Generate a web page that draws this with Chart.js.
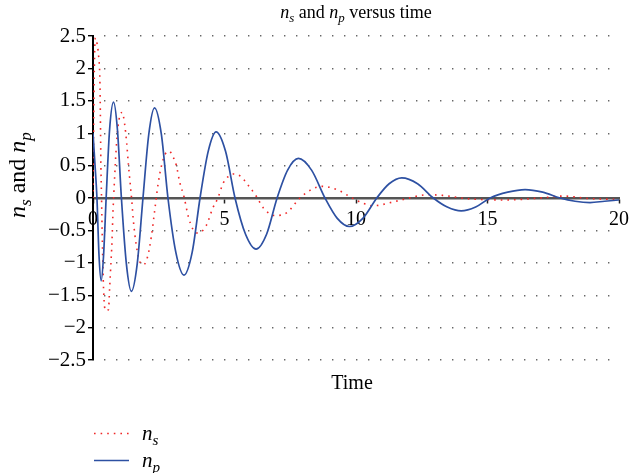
<!DOCTYPE html>
<html>
<head>
<meta charset="UTF-8">
<title>ns and np versus time</title>
<script src="https://cdn.jsdelivr.net/npm/chart.js@4.4.0/dist/chart.umd.min.js"></script>
<style>
  html, body { margin: 0; padding: 0; background: #fff; }
  .chart-container { position: relative; width: 631px; height: 473px; }
</style>
</head>
<body>
<div class="chart-container"><canvas id="chart"></canvas></div>
<script>
// n_s, red dotted curve
const timeS = [0, 0.03, 0.06, 0.09, 0.16, 0.22, 0.26, 0.28, 0.30, 0.32,
  0.35, 0.39, 0.44, 0.50, 0.59, 0.63, 0.67, 0.72, 0.76, 0.82,
  0.88, 0.95, 1.03, 1.11, 1.2, 1.28, 1.35, 1.42, 1.47, 1.53,
  1.65, 1.8, 1.92, 2.08, 2.22, 2.35, 2.48, 2.6, 2.75, 2.9,
  3.05, 3.17, 3.3, 3.46, 3.62, 3.81, 3.99, 4.3, 4.56, 4.75,
  4.95, 5.14, 5.33, 5.59, 5.97, 6.22, 6.47, 6.92, 7.36, 7.87,
  8.3, 8.7, 9.33, 9.77, 10.2, 10.66, 11.42, 11.93, 12.7, 13.3,
  14.2, 15.7, 17.0, 17.9, 18.9, 20];
const valuesS = [0, 1.3, 2.2, 2.47, 2.37, 2.16, 1.85, 1.3, 0.5, 0.1,
  -0.55, -1.26, -1.68, -1.74, -1.72, -1.41, -1.1, -0.69, -0.22, 0.3,
  0.75, 1.1, 1.28, 1.32, 1.15, 0.85, 0.5, 0.2, -0.02, -0.33,
  -0.74, -1.0, -1.03, -0.9, -0.59, -0.18, 0.23, 0.49, 0.68, 0.72,
  0.63, 0.5, 0.24, 0.02, -0.28, -0.49, -0.54, -0.43, -0.15, 0,
  0.23, 0.33, 0.37, 0.34, 0.16, 0.02, -0.15, -0.27, -0.23, 0,
  0.13, 0.18, 0.12, 0.02, -0.07, -0.12, -0.06, -0.01, 0.05, 0.04,
  -0.01, -0.03, 0, 0.03, -0.01, -0.02];

// n_p, blue solid curve
const timeP = [0, 0.07, 0.15, 0.23, 0.31, 0.40, 0.50, 0.63, 0.78, 0.93,
  1.08, 1.27, 1.46, 1.68, 1.9, 2.12, 2.34, 2.6, 2.85, 3.15,
  3.46, 3.77, 4.07, 4.38, 4.68, 5.04, 5.4, 5.8, 6.2, 6.6,
  7.0, 7.4, 7.81, 8.31, 8.82, 9.28, 9.75, 10.27, 10.79, 11.26,
  11.74, 12.34, 12.94, 13.47, 14.0, 14.55, 15.1, 15.77, 16.43, 17.1,
  17.76, 18.33, 18.9, 19.45, 20];
const valuesP = [1.0, 0.55, 0, -0.9, -1.28, -0.9, 0, 1.05, 1.48, 1.05,
  0, -1.02, -1.44, -1.02, 0, 0.98, 1.39, 0.98, 0, -0.84,
  -1.19, -0.84, 0, 0.72, 1.02, 0.72, 0, -0.56, -0.79, -0.56,
  0, 0.43, 0.61, 0.43, 0, -0.31, -0.44, -0.31, 0, 0.22,
  0.31, 0.22, 0, -0.14, -0.2, -0.14, 0, 0.09, 0.13, 0.09,
  0, -0.05, -0.07, -0.05, -0.03];

// axes
const xMin = 0, xMax = 20, xStep = 5;
const yMin = -2.5, yMax = 2.5, yStep = 0.5;

// texts (italic n with subscripts)
const titleParts = [{t: 'n', i: 1}, {t: 's', i: 1, sub: 1}, {t: ' and '}, {t: 'n', i: 1}, {t: 'p', i: 1, sub: 1}, {t: ' versus time'}];
const yLabelParts = [{t: 'n', i: 1}, {t: 's', i: 1, sub: 1}, {t: ' and '}, {t: 'n', i: 1}, {t: 'p', i: 1, sub: 1}];
const xLabelParts = [{t: 'Time'}];
const legendParts = [
  [{t: 'n', i: 1}, {t: 's', i: 1, sub: 1}],
  [{t: 'n', i: 1}, {t: 'p', i: 1, sub: 1}]
];

const FAMILY = '"Liberation Serif", "DejaVu Serif", serif';
Chart.defaults.font.family = FAMILY;
Chart.defaults.color = '#000';

function toPoints(xs, ys) {
  return xs.map(function(x, i) { return {x: x, y: ys[i]}; });
}

// draw a string made of roman / italic / subscript pieces
function drawRich(ctx, parts, x, y, size, align) {
  ctx.save();
  ctx.fillStyle = '#000';
  ctx.textBaseline = 'alphabetic';
  ctx.textAlign = 'left';
  var fontFor = function(p) {
    return (p.i ? 'italic ' : '') + (p.sub ? size * 0.72 : size) + 'px ' + FAMILY;
  };
  var w = 0;
  parts.forEach(function(p) { ctx.font = fontFor(p); w += ctx.measureText(p.t).width; });
  var cx = align === 'left' ? x : x - w / 2;
  parts.forEach(function(p) {
    ctx.font = fontFor(p);
    ctx.fillText(p.t, cx, y + (p.sub ? size * 0.24 : 0));
    cx += ctx.measureText(p.t).width;
  });
  ctx.restore();
}

const textPlugin = {
  id: 'texts',
  afterDraw: function(chart) {
    var ctx = chart.ctx;
    var area = chart.chartArea;
    var cx = (area.left + area.right) / 2;
    drawRich(ctx, titleParts, cx, 18, 18);
    drawRich(ctx, xLabelParts, cx - 4, 389, 20);

    ctx.save();
    ctx.translate(25, 175);
    ctx.rotate(-Math.PI / 2);
    drawRich(ctx, yLabelParts, 0, 0, 24);
    ctx.restore();

    // legend below the chart
    var rows = [433.5, 460.5];
    chart.data.datasets.forEach(function(ds, i) {
      ctx.save();
      ctx.strokeStyle = ds.borderColor;
      ctx.lineWidth = ds.borderWidth;
      ctx.setLineDash(ds.borderDash || []);
      ctx.beginPath();
      ctx.moveTo(94, rows[i]);
      ctx.lineTo(129, rows[i]);
      ctx.stroke();
      ctx.restore();
      drawRich(ctx, legendParts[i], 142, rows[i] + 6, 21, 'left');
    });
  }
};

const ctx = document.getElementById('chart').getContext('2d');
const chart = new Chart(ctx, {
  type: 'line',
  data: {
    datasets: [{
      label: 'ns',
      data: toPoints(timeS, valuesS),
      borderColor: '#f02828',
      borderWidth: 1.6,
      borderDash: [1.6, 5],
      pointRadius: 0,
      cubicInterpolationMode: 'monotone',
      order: 1
    }, {
      label: 'np',
      data: toPoints(timeP, valuesP),
      borderColor: '#2d50a2',
      borderWidth: 1.7,
      pointRadius: 0,
      cubicInterpolationMode: 'monotone',
      order: 0
    }]
  },
  options: {
    responsive: true,
    maintainAspectRatio: false,
    animation: false,
    layout: { padding: { left: 0, right: 12, top: 36, bottom: 113 } },
    plugins: {
      legend: { display: false },
      title: { display: false },
      tooltip: { enabled: false }
    },
    scales: {
      x: {
        type: 'linear',
        min: xMin,
        max: xMax,
        position: { y: 0 },
        ticks: { stepSize: xStep, maxRotation: 0, padding: 2, font: { size: 20, lineHeight: 1.55 } },
        grid: { drawOnChartArea: false, drawTicks: true, tickLength: 4, tickColor: '#222', tickWidth: 1.5 },
        border: { color: '#555', width: 2.5 }
      },
      y: {
        type: 'linear',
        min: yMin,
        max: yMax,
        ticks: {
          stepSize: yStep,
          padding: 2,
          font: { size: 21 },
          callback: function(v) { return v < 0 ? '\u2212' + (-v) : String(v); }
        },
        grid: { color: '#666', lineWidth: 1.4, tickLength: 5, tickColor: '#000', tickWidth: 1.4 },
        border: { color: '#000', width: 2, dash: [1.4, 10.6], dashOffset: -10 },
        afterFit: function(scale) { scale.width = 93; }
      }
    }
  },
  plugins: [textPlugin]
});
</script>
</body>
</html>
